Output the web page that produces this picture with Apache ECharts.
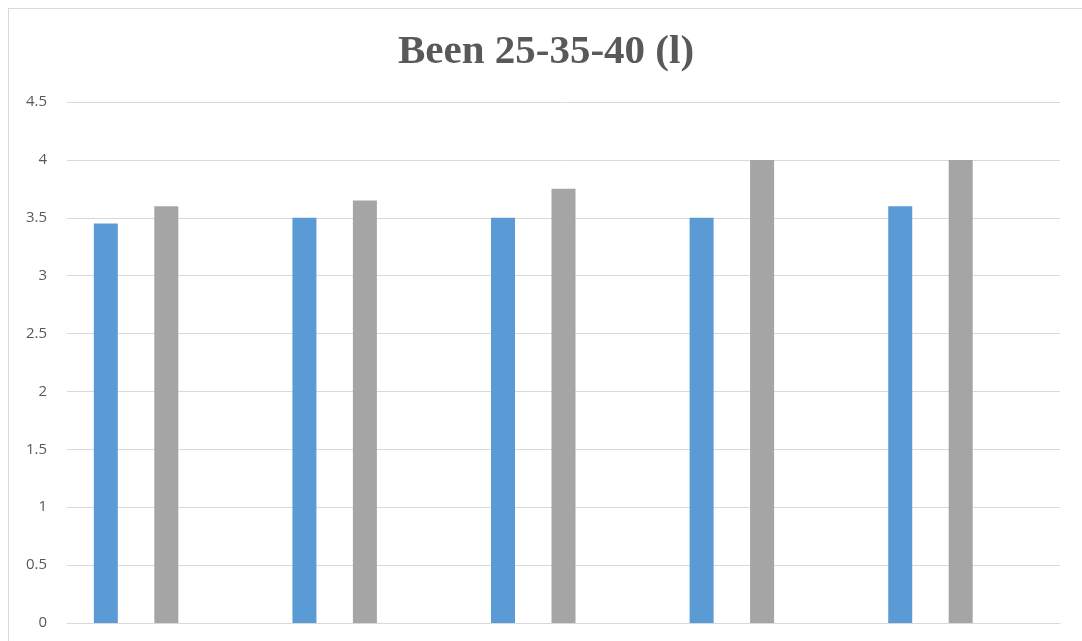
<!DOCTYPE html>
<html>
<head>
<meta charset="utf-8">
<script src="https://cdn.jsdelivr.net/npm/echarts@6/dist/echarts.min.js"></script>
<style>
html,body{margin:0;padding:0;background:#fff;overflow:hidden;}
#wrap{position:relative;width:1082px;height:641px;}
#chart{position:absolute;left:0;top:0;width:1082px;height:641px;}
#frame{position:absolute;left:8px;top:8px;width:1200px;height:800px;border:1px solid #d9d9d9;pointer-events:none;}
</style>
</head>
<body>
<div id="wrap"><div id="chart"></div><div id="frame"></div></div>
<script>
const titleText = "Been 25-35-40 (l)";
const categories = ["1", "2", "3", "4", "5"];
const seriesNames = ["Series1", "Series2", "Series3"];
const series1Values = [3.45, 3.5, 3.5, 3.5, 3.6];
const series2Values = [3.6, 3.65, 3.75, 4.0, 4.0];
const series3Values = [null, null, null, null, null];
const yTicks = { min: 0, max: 4.5, interval: 0.5 };

const chart = echarts.init(document.getElementById('chart'), null, { renderer: 'canvas' });
chart.setOption({
  backgroundColor: '#ffffff',
  animation: false,
  title: {
    text: titleText,
    left: 393,
    top: 27,
    textStyle: { fontFamily: 'Liberation Serif', fontWeight: 'bold', fontSize: 41, color: '#595959' }
  },
  grid: { left: 67, right: 22, top: 102, bottom: 18, containLabel: false },
  xAxis: {
    type: 'category',
    data: categories,
    axisLine: { show: true, lineStyle: { color: '#d9d9d9', width: 1 } },
    axisTick: { show: false },
    axisLabel: { show: false },
    splitLine: { show: false }
  },
  yAxis: {
    type: 'value',
    min: yTicks.min, max: yTicks.max, interval: yTicks.interval,
    axisLine: { show: false },
    axisTick: { show: false },
    axisLabel: { color: '#595959', fontFamily: 'Open Sans', fontSize: 15, margin: 20 },
    splitLine: { show: true, lineStyle: { color: '#d9d9d9', width: 1 } }
  },
  series: [
    { name: seriesNames[0], type: 'bar', data: series1Values, barWidth: 24, barGap: '152%', itemStyle: { color: '#5b9bd5' } },
    { name: seriesNames[1], type: 'bar', data: series2Values, barWidth: 24, barGap: '152%', itemStyle: { color: '#a5a5a5' } },
    { name: seriesNames[2], type: 'bar', data: series3Values, barWidth: 24, barGap: '152%', itemStyle: { color: '#ffc000' } }
  ]
});
</script>
</body>
</html>
